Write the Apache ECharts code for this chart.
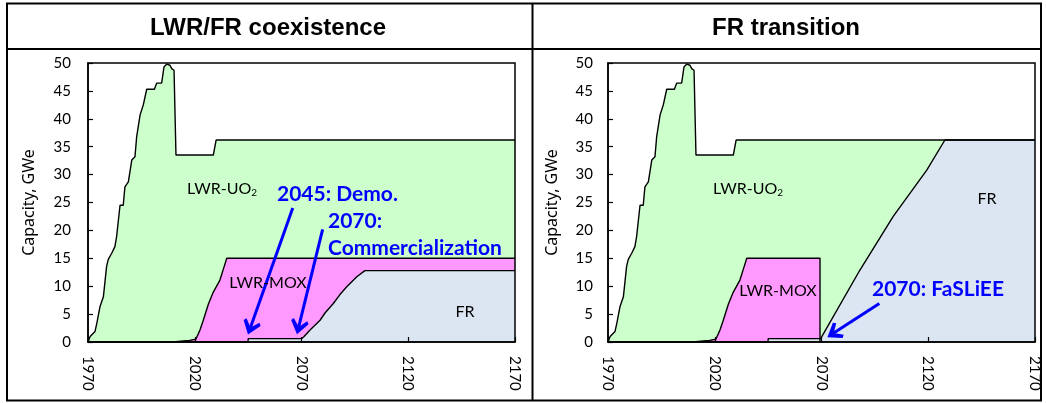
<!DOCTYPE html>
<html>
<head>
<meta charset="utf-8">
<script src="https://cdn.jsdelivr.net/npm/echarts@6/dist/echarts.min.js"></script>
<style>
  html, body { margin: 0; padding: 0; background: #fff; }
  #chart { width: 1046px; height: 403px; }
</style>
</head>
<body>
<div id="chart"></div>
<script>
// Nuclear generating capacity (GWe) by year, two deployment scenarios.
// Each array is the upper edge of a coloured band, as [year, GWe]:
// the LWR-UO2 band reaches the total, LWR-MOX reaches MOX + FR, FR is FR alone.

const yearTicks = [1970, 2020, 2070, 2120, 2170];
const capacityTicks = [0, 5, 10, 15, 20, 25, 30, 35, 40, 45, 50];

// Total installed capacity (top of LWR-UO2), shared by both scenarios
const totalCapacity = [
  [1970, 0], [1971, 1.0], [1973.3, 1.9], [1974.1, 3.3], [1975.6, 6.3], [1977.2, 8.1],
  [1978.7, 13.5], [1979.5, 14.8], [1981.1, 15.9], [1982.6, 17.1], [1983.4, 18.9],
  [1985, 24.5], [1986.5, 24.5], [1987.3, 27.8], [1988.9, 28.7], [1990.5, 32.6],
  [1992, 33.2], [1992.8, 36.8], [1994.4, 40.7], [1995.9, 42.5], [1997.5, 45.3],
  [2001.1, 45.3], [2002.2, 46.4], [2004.5, 46.4], [2005.6, 49.3], [2006.9, 49.8],
  [2008.4, 49.6], [2009.2, 49.0], [2010.3, 48.7], [2011.2, 33.5], [2028.7, 33.5],
  [2030, 36.2], [2170, 36.2]
];

// LWR/FR coexistence: MOX + FR, and FR
const moxTopCoexist = [
  [1970, 0], [2009.5, 0], [2010, 0.3], [2017.5, 0.3], [2018, 0.5], [2020.5, 0.5],
  [2021.7, 1.5], [2022.5, 2.2], [2024, 3.9], [2026.4, 6.8], [2028.5, 8.8],
  [2031.8, 11.1], [2033.5, 13.2], [2035, 15], [2170, 15]
];
const frCoexist = [
  [1970, 0], [2045, 0], [2045, 0.6], [2070, 0.6], [2071, 0.9], [2074, 2.15],
  [2078.7, 3.9], [2081, 5.2], [2084.9, 6.9], [2088, 8.5], [2091.2, 9.9],
  [2095.9, 11.7], [2099.7, 12.8], [2170, 12.8]
];

// FR transition: MOX + FR, and FR
const moxTopTransition = [
  [1970, 0], [2009.5, 0], [2010, 0.3], [2017.5, 0.3], [2018, 0.5], [2020.5, 0.5],
  [2021.7, 1.5], [2022.5, 2.2], [2024, 3.9], [2026.4, 6.8], [2028.5, 8.8],
  [2031.8, 11.1], [2033.5, 13.2], [2035, 15], [2069.3, 15], [2069.3, 0]
];
const frTransition = [
  [1970, 0], [2045, 0], [2045, 0.6], [2069.6, 0.6], [2070.1, 0.7],
  [2088, 12.9], [2103.6, 22.5], [2119.3, 30.8], [2127.8, 36.2], [2170, 36.2]
];

const panelTitles = ['LWR/FR coexistence', 'FR transition'];
const yName = 'Capacity, GWe';

const GREEN = '#CCFFCC', MAGENTA = '#FF99FF', BLUE = '#DCE6F2', ARROW = '#0000FF';
const LABEL_FONT = 'Lato, "Noto Sans", sans-serif';

const chart = echarts.init(document.getElementById('chart'), null, { renderer: 'canvas' });

function band(name, data, color, idx) {
  return {
    type: 'line', name, data,
    xAxisIndex: idx, yAxisIndex: idx,
    symbol: 'none', smooth: false,
    lineStyle: { color: '#000', width: 1.4 },
    areaStyle: { color, opacity: 1 },
    silent: true, animation: false
  };
}

// chevron arrow head, tip at the top
const chevron = 'path://M50,0 L100,66 L88,80 L50,40 L12,80 L0,66 Z';
function arrows(segments) {
  return {
    silent: true, animation: false,
    symbol: ['none', chevron], symbolSize: [18, 15],
    lineStyle: { color: ARROW, width: 3, type: 'solid' },
    label: { show: false },
    data: segments.map(s => [{ coord: s[0] }, { coord: s[1] }])
  };
}

const grids = [
  { left: 88, top: 63, width: 427, height: 279 },
  { left: 608, top: 63, width: 427, height: 279 }
].map(g => Object.assign(g, { show: true, borderColor: '#000', borderWidth: 1.5, z: 10 }));

const xAxes = [0, 1].map(i => ({
  type: 'value', gridIndex: i,
  min: yearTicks[0], max: yearTicks[yearTicks.length - 1],
  interval: yearTicks[1] - yearTicks[0],
  z: 10,
  axisLine: { lineStyle: { color: '#000', width: 1.5 } },
  axisTick: { inside: true, length: 5, lineStyle: { color: '#000', width: 1.2 } },
  splitLine: { show: false },
  axisLabel: {
    rotate: -90, margin: 14, color: '#000', fontSize: 15, fontFamily: LABEL_FONT,
    formatter: v => String(v)
  }
}));

const yAxes = [0, 1].map(i => ({
  type: 'value', gridIndex: i,
  min: capacityTicks[0], max: capacityTicks[capacityTicks.length - 1],
  interval: capacityTicks[1] - capacityTicks[0],
  z: 10,
  name: yName, nameLocation: 'middle', nameGap: i === 0 ? 51 : 48, nameRotate: 90,
  nameTextStyle: { color: '#000', fontSize: 16, fontFamily: '"Noto Sans", sans-serif' },
  axisLine: { lineStyle: { color: '#000', width: 1.5 } },
  axisTick: { inside: true, length: 5, lineStyle: { color: '#000', width: 1.2 } },
  splitLine: { show: false },
  axisLabel: { margin: i === 0 ? 17 : 15, color: '#000', fontSize: 15, fontFamily: LABEL_FONT }
}));

const series = [
  band('LWR-UO2', totalCapacity, GREEN, 0),
  band('LWR-MOX', moxTopCoexist, MAGENTA, 0),
  Object.assign(band('FR', frCoexist, BLUE, 0), {
    markLine: arrows([
      [[2065.9, 24.0], [2046.1, 2.6]],
      [[2079.9, 20.2], [2068.7, 2.7]]
    ])
  }),
  band('LWR-UO2', totalCapacity, GREEN, 1),
  band('LWR-MOX', moxTopTransition, MAGENTA, 1),
  Object.assign(band('FR', frTransition, BLUE, 1), {
    markLine: arrows([
      [[2097.1, 6.9], [2075.7, 1.6]]
    ])
  })
];

function txt(x, y, text, extra) {
  return {
    type: 'text', x, y, z: 100, silent: true,
    style: Object.assign({
      text, fill: '#000', align: 'center', verticalAlign: 'middle',
      font: '16px ' + LABEL_FONT
    }, extra || {})
  };
}
const sub = {
  n: { fontSize: 16, fontFamily: 'Lato', lineHeight: 18 },
  s: { fontSize: 10, fontFamily: 'Lato', lineHeight: 10, verticalAlign: 'bottom' }
};
const blueBold = { fill: ARROW, align: 'left', font: 'bold 21px ' + LABEL_FONT };
const titleFont = { font: 'bold 24px "Liberation Sans", Arial, sans-serif' };

const graphic = [
  // table frame
  { type: 'rect', z: 100, silent: true, shape: { x: 7, y: 3.5, width: 1034, height: 397 },
    style: { fill: 'none', stroke: '#000', lineWidth: 2 } },
  { type: 'line', z: 100, silent: true, shape: { x1: 7, y1: 49, x2: 1041, y2: 49 },
    style: { stroke: '#000', lineWidth: 2 } },
  { type: 'line', z: 100, silent: true, shape: { x1: 532.5, y1: 3.5, x2: 532.5, y2: 400.5 },
    style: { stroke: '#000', lineWidth: 2 } },
  txt(268, 28, panelTitles[0], titleFont),
  txt(786, 28, panelTitles[1], titleFont),
  // band names
  txt(222, 189, '{n|LWR-UO}{s|2}', { rich: sub }),
  txt(748, 189, '{n|LWR-UO}{s|2}', { rich: sub }),
  txt(268, 283, 'LWR-MOX'),
  txt(778, 291, 'LWR-MOX'),
  txt(465, 312, 'FR'),
  txt(987, 199, 'FR'),
  // milestones
  txt(277, 194, '2045: Demo.', blueBold),
  txt(328, 221, '2070:', blueBold),
  txt(328, 248, 'Commercialization', blueBold),
  txt(872, 289, '2070: FaSLiEE', blueBold)
];

chart.setOption({
  animation: false,
  backgroundColor: '#fff',
  grid: grids,
  xAxis: xAxes,
  yAxis: yAxes,
  series,
  graphic
});
</script>
</body>
</html>
